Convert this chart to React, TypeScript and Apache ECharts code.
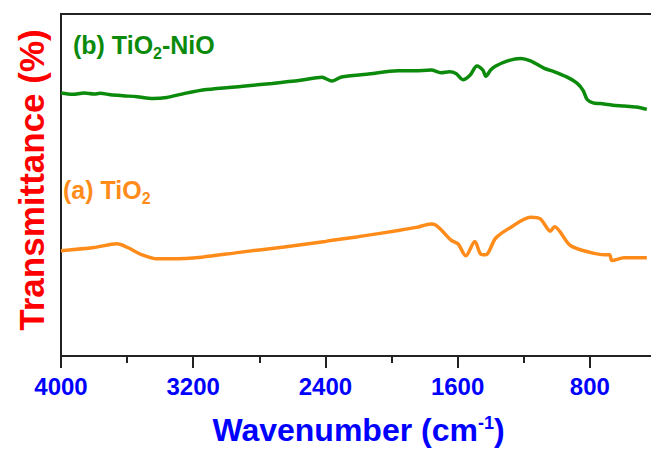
import React, { useEffect, useRef } from "react";
import * as echarts from "echarts";

// Wavenumber ticks (cm-1)
const xTicks = [4000, 3200, 2400, 1600, 800];

// (b) TiO2-NiO spectrum
const niWavenumber = [4000, 3930, 3860, 3800, 3763, 3700, 3625, 3540, 3444, 3360, 3250, 3119, 2900, 2722, 2550, 2420, 2398, 2362, 2302, 2150, 1959, 1860, 1760, 1700, 1650, 1610, 1568, 1525, 1483, 1447, 1429, 1400, 1369, 1297, 1219, 1159, 1075, 1014, 940, 876, 840, 816, 780, 737, 660, 593, 520, 455];
const niTransmittance = [76.9, 76.5, 76.9, 76.6, 76.8, 76.4, 76.1, 75.8, 75.3, 75.6, 76.8, 77.9, 78.9, 79.7, 80.6, 81.5, 81.1, 80.4, 81.6, 82.4, 83.4, 83.4, 83.6, 82.8, 83.1, 82.6, 80.8, 82.1, 84.8, 83.6, 81.8, 83.6, 84.8, 86.3, 87.0, 86.3, 84.1, 83.1, 81.6, 79.7, 77.6, 75.0, 74.0, 73.8, 73.3, 73.1, 72.8, 72.1];

// (a) TiO2 spectrum
const tiWavenumber = [4000, 3800, 3661, 3600, 3510, 3420, 3324, 3150, 2921, 2650, 2400, 2380, 2200, 1959, 1850, 1760, 1736, 1706, 1640, 1598, 1550, 1496, 1460, 1430, 1369, 1279, 1159, 1099, 1039, 1014, 918, 798, 708, 680, 666, 593, 455];
const tiTransmittance = [30.8, 31.7, 32.8, 31.8, 29.6, 28.4, 28.4, 28.9, 30.3, 31.9, 33.5, 33.7, 34.9, 36.7, 37.6, 38.6, 38.4, 37.2, 33.9, 32.8, 29.3, 33.5, 29.8, 29.6, 34.5, 37.6, 40.6, 40.1, 36.5, 37.8, 32.3, 30.3, 29.6, 29.6, 27.9, 28.7, 28.7];

const FONT = "'Liberation Sans', Arial, sans-serif";

export default function App() {
  const ref = useRef<HTMLDivElement>(null);
  useEffect(() => {
    if (!ref.current) return;
    const chart = echarts.init(ref.current, null, { renderer: "svg" });
    const niData = niWavenumber.map((w, i) => [w, niTransmittance[i]]);
    const tiData = tiWavenumber.map((w, i) => [w, tiTransmittance[i]]);
    chart.setOption({
      animation: false,
      backgroundColor: "#ffffff",
      grid: {
        left: 61,
        top: 14,
        bottom: 98,
        right: 8,
        show: true,
        borderColor: "#222",
        borderWidth: 2,
        containLabel: false,
      },
      xAxis: {
        type: "value",
        min: 0,
        max: 4000,
        interval: 800,
        inverse: true,
        splitLine: { show: false },
        axisLine: { show: true, lineStyle: { color: "#222", width: 2 } },
        axisTick: { show: true, inside: false, length: 12, lineStyle: { color: "#222", width: 2 } },
        minorTick: { show: true, splitNumber: 2, length: 7, lineStyle: { color: "#222", width: 2 } },
        axisLabel: {
          show: true,
          margin: 18,
          color: "#0000ff",
          fontWeight: "bold",
          fontSize: 24,
          fontFamily: FONT,
          formatter: (v: number) => (xTicks.includes(v) ? String(v) : ""),
        },
        name: "Wavenumber (cm{sup|-1})",
        nameLocation: "middle",
        nameGap: 58,
        nameTextStyle: {
          color: "#0000ff",
          fontWeight: "bold",
          fontSize: 32,
          fontFamily: FONT,
          padding: [0, 66, 0, 0],
          rich: {
            sup: {
              color: "#0000ff",
              fontWeight: "bold",
              fontSize: 18,
              fontFamily: FONT,
              verticalAlign: "top",
              padding: [0, 0, 14, 0],
            },
          },
        },
      },
      yAxis: {
        type: "value",
        min: 0,
        max: 100,
        splitLine: { show: false },
        axisLine: { show: true, lineStyle: { color: "#222", width: 2 } },
        axisTick: { show: false },
        axisLabel: { show: false },
        name: "Transmittance (%)",
        nameLocation: "middle",
        nameGap: 12,
        nameTextStyle: {
          color: "#ff0000",
          fontWeight: "bold",
          fontSize: 35,
          fontFamily: FONT,
          padding: [0, 0, 0, 10],
        },
      },
      graphic: [
        {
          type: "text",
          left: 73,
          top: 32,
          style: {
            text: "(b) TiO{sub|2}-NiO",
            fill: "#0b8a0b",
            font: "bold 25px " + FONT,
            rich: {
              sub: { fill: "#0b8a0b", font: "bold 16px " + FONT, verticalAlign: "bottom", lineHeight: 34 },
            },
          },
        },
        {
          type: "text",
          left: 63,
          top: 177,
          style: {
            text: "(a) TiO{sub|2}",
            fill: "#ff8c1a",
            font: "bold 25px " + FONT,
            rich: {
              sub: { fill: "#ff8c1a", font: "bold 16px " + FONT, verticalAlign: "bottom", lineHeight: 34 },
            },
          },
        },
      ],
      series: [
        {
          type: "line",
          name: "TiO2-NiO",
          data: niData,
          showSymbol: false,
          smooth: 0.3,
          lineStyle: { color: "#0b8a0b", width: 3.5 },
        },
        {
          type: "line",
          name: "TiO2",
          data: tiData,
          showSymbol: false,
          smooth: 0.3,
          lineStyle: { color: "#ff8c1a", width: 3.5 },
        },
      ],
    });
    return () => chart.dispose();
  }, []);
  return (
    <div style={{ position: "fixed", left: 0, top: 0, width: 651, height: 454, overflow: "hidden", background: "#fff" }}>
      <div ref={ref} style={{ position: "absolute", left: 0, top: 0, width: 730, height: 454 }} />
    </div>
  );
}
